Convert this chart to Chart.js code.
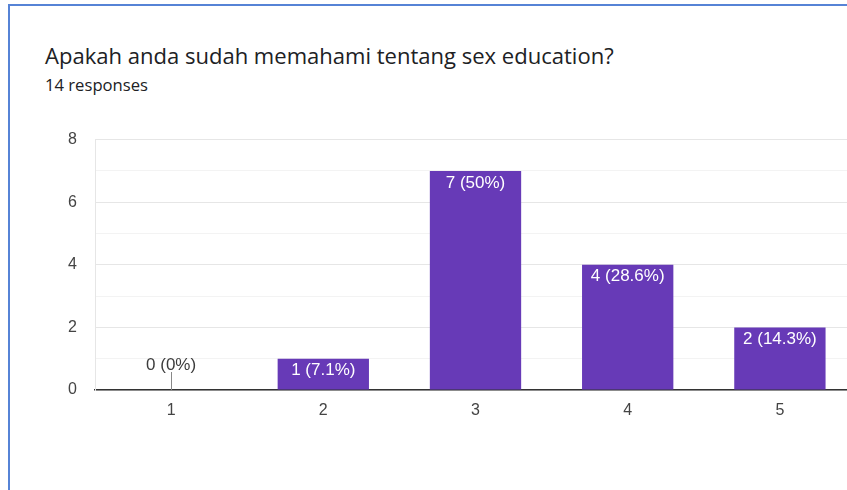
<!DOCTYPE html>
<html>
<head>
<meta charset="utf-8">
<script src="https://cdn.jsdelivr.net/npm/chart.js@4"></script>
<style>
  html, body { margin: 0; padding: 0; background: #fff; overflow: hidden; width: 847px; height: 490px; }
  .card { position: absolute; left: 8px; top: 4px; width: 900px; height: 600px;
          border-left: 2px solid #5683d6; border-top: 2px solid #5683d6; }
  .title { position: absolute; left: 45px; top: 42px; font-family: "Open Sans", Roboto, sans-serif;
           font-size: 20px; color: #202124; white-space: nowrap; line-height: 1.2; }
  .sub { position: absolute; left: 45px; top: 75px; font-family: "Open Sans", Roboto, sans-serif;
         font-size: 14px; color: #202124; white-space: nowrap; line-height: 1.2; }
  .wrap { position: absolute; left: 0; top: 112px; width: 856px; height: 318px; }
</style>
</head>
<body>
<div class="card"></div>
<div class="title" id="title">Apakah anda sudah memahami tentang sex education?</div>
<div class="sub" id="sub">14 responses</div>
<div class="wrap"><canvas id="BarChart"></canvas></div>
<script>
const categories = ['1', '2', '3', '4', '5'];
const counts = [0, 1, 7, 4, 2];
const yTicks = [0, 2, 4, 6, 8];

const total = counts.reduce((a, b) => a + b, 0);
const pct = v => {
  const p = Math.round(v / total * 1000) / 10;
  return v + ' (' + p + '%)';
};

// scale a heading so it spans the same width as in the screenshot
function fitWidth(id, target) {
  const el = document.getElementById(id);
  const size = parseFloat(getComputedStyle(el).fontSize);
  el.style.fontSize = (size * target / el.getBoundingClientRect().width) + 'px';
}
fitWidth('title', 569);
fitWidth('sub', 103);

const labelFont = '17px "Liberation Sans", Arial, sans-serif';

// labels inside the bars, plus the little stub for zero answers
const barLabels = {
  id: 'barLabels',
  afterDatasetsDraw(chart) {
    const ctx = chart.ctx;
    const meta = chart.getDatasetMeta(0);
    const base = chart.scales.y.getPixelForValue(0);
    ctx.save();
    ctx.font = labelFont;
    ctx.textAlign = 'center';
    ctx.textBaseline = 'middle';
    meta.data.forEach((bar, i) => {
      const v = counts[i];
      if (v === 0) {
        ctx.strokeStyle = '#888';
        ctx.lineWidth = 1;
        ctx.beginPath();
        ctx.moveTo(Math.round(bar.x) + 0.5, base - 18);
        ctx.lineTo(Math.round(bar.x) + 0.5, base);
        ctx.stroke();
        ctx.fillStyle = '#3c3c3c';
        ctx.fillText(pct(v), bar.x, base - 25);
      } else {
        ctx.fillStyle = '#ffffff';
        ctx.fillText(pct(v), bar.x, bar.y + 12);
      }
    });
    ctx.restore();
  }
};

const tickFont = { size: 16, family: '"Liberation Sans", Arial, sans-serif' };

new Chart(document.getElementById('BarChart').getContext('2d'), {
  type: 'bar',
  data: {
    labels: categories,
    datasets: [{
      data: counts,
      backgroundColor: '#673ab7',
      barPercentage: 0.6,
      categoryPercentage: 1.0
    }]
  },
  plugins: [barLabels],
  options: {
    responsive: true,
    maintainAspectRatio: false,
    animation: false,
    layout: { padding: { top: 11, right: 0, left: 0, bottom: 0 } },
    plugins: { legend: { display: false }, tooltip: { enabled: false } },
    scales: {
      x: {
        grid: { display: false },
        border: { display: true, color: '#333', width: 1.5 },
        ticks: { color: '#444', font: tickFont, padding: 3 },
        afterFit(scale) { scale.height = 40; }
      },
      y: {
        min: 0,
        max: 8,
        afterBuildTicks(scale) {
          scale.ticks = [];
          for (let v = 0; v <= 8; v++) scale.ticks.push({ value: v });
        },
        grid: {
          drawTicks: false,
          color: c => (c.tick.value % 2 === 0 ? '#e6e6e6' : '#f3f3f3')
        },
        border: { display: true, color: '#e6e6e6', width: 1 },
        ticks: {
          color: '#444',
          padding: 18,
          font: tickFont,
          callback: v => (yTicks.includes(v) ? v : '')
        },
        afterFit(scale) { scale.width = 95; }
      }
    }
  }
});
</script>
</body>
</html>
